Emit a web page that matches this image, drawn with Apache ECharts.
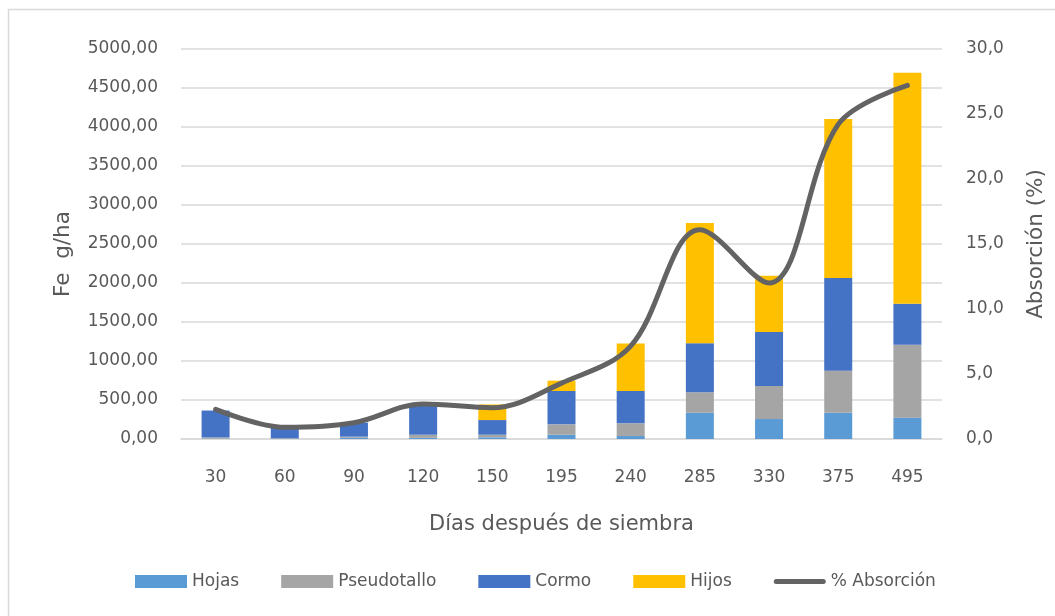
<!DOCTYPE html>
<html>
<head>
<meta charset="utf-8">
<script src="https://cdn.jsdelivr.net/npm/echarts@6/dist/echarts.min.js"></script>
<style>
html,body{margin:0;padding:0;background:#fff;}
#c{width:1055px;height:616px;}
</style>
</head>
<body>
<div id="c"></div>
<script>
const categories = ['30','60','90','120','150','195','240','285','330','375','495'];
const hojas       = [5, 5, 15, 15, 22, 55, 38, 337, 256, 337, 274];
const pseudotallo = [15, 5, 15, 40, 33, 133, 163, 262, 423, 539, 935];
const cormo       = [345, 160, 180, 380, 188, 427, 414, 628, 693, 1188, 526];
const hijos       = [0, 0, 0, 0, 200, 133, 610, 1542, 722, 2039, 2962];
const absorcion   = [2.28, 0.9, 1.25, 2.7, 2.4, 4.3, 7.15, 16.1, 12.0, 24.2, 27.2];
const leftTicks = {min: 0, max: 5000, interval: 500};
const rightTicks = {min: 0, max: 30, interval: 5};

const FONT = 'DejaVu Sans';
const TXT = '#595959';
const GRID = '#d9d9d9';

const chart = echarts.init(document.getElementById('c'), null, {renderer: 'canvas'});
function bar(name, data, color) {
  return {
    name: name, type: 'bar', stack: 'total', data: data, barWidth: 28,
    itemStyle: {color: color}, yAxisIndex: 0
  };
}
chart.setOption({
  animation: false,
  textStyle: {fontFamily: FONT},
  graphic: [{
    type: 'rect', left: 6, top: 7, z: -1,
    shape: {width: 1200, height: 800},
    style: {fill: 'none', stroke: GRID, lineWidth: 1.5}
  }],
  grid: {left: 181, right: 112, top: 49, bottom: 177, containLabel: false},
  legend: {
    bottom: 21, left: 130,
    itemWidth: 52, itemHeight: 13, itemGap: 42,
    symbolKeepAspect: true,
    textStyle: {color: TXT, fontSize: 17, fontFamily: FONT},
    data: [
      {name: 'Hojas', icon: 'rect'},
      {name: 'Pseudotallo', icon: 'rect'},
      {name: 'Cormo', icon: 'rect'},
      {name: 'Hijos', icon: 'rect'},
      {name: '% Absorción', icon: 'path://M2.5,0 L49.5,0 A2.5,2.5 0 0 1 49.5,5 L2.5,5 A2.5,2.5 0 0 1 2.5,0 Z'}
    ]
  },
  xAxis: {
    type: 'category', data: categories,
    name: 'Días después de siembra', nameLocation: 'middle', nameGap: 75,
    nameTextStyle: {color: TXT, fontSize: 21, fontFamily: FONT},
    axisLine: {lineStyle: {color: GRID, width: 1.5}},
    axisTick: {show: false},
    axisLabel: {color: TXT, fontSize: 17, margin: 30, fontFamily: FONT}
  },
  yAxis: [{
    type: 'value', min: leftTicks.min, max: leftTicks.max, interval: leftTicks.interval,
    name: 'Fe  g/ha', nameLocation: 'middle', nameGap: 107, nameRotate: 90,
    nameTextStyle: {color: TXT, fontSize: 21.5, fontFamily: FONT, padding: [0, 20, 0, 0]},
    axisLine: {show: false}, axisTick: {show: false},
    splitLine: {lineStyle: {color: GRID, width: 1.5}},
    axisLabel: {color: TXT, fontSize: 17, margin: 23, fontFamily: FONT,
      formatter: v => v.toFixed(2).replace('.', ',')}
  }, {
    type: 'value', min: rightTicks.min, max: rightTicks.max, interval: rightTicks.interval,
    position: 'right',
    name: 'Absorción (%)', nameLocation: 'middle', nameGap: 83, nameRotate: 90,
    nameTextStyle: {color: TXT, fontSize: 21.5, fontFamily: FONT},
    axisLine: {show: false}, axisTick: {show: false},
    splitLine: {show: false},
    axisLabel: {color: TXT, fontSize: 17, margin: 24, fontFamily: FONT,
      formatter: v => v.toFixed(1).replace('.', ',')}
  }],
  series: [
    bar('Hojas', hojas, '#5B9BD5'),
    bar('Pseudotallo', pseudotallo, '#A5A5A5'),
    bar('Cormo', cormo, '#4472C4'),
    bar('Hijos', hijos, '#FFC000'),
    {
      name: '% Absorción', type: 'line', yAxisIndex: 1, data: absorcion,
      smooth: 0.35, symbol: 'none', z: 5,
      lineStyle: {color: '#636363', width: 5, cap: 'round', join: 'round'},
      itemStyle: {color: '#636363'}
    }
  ]
});
</script>
</body>
</html>
